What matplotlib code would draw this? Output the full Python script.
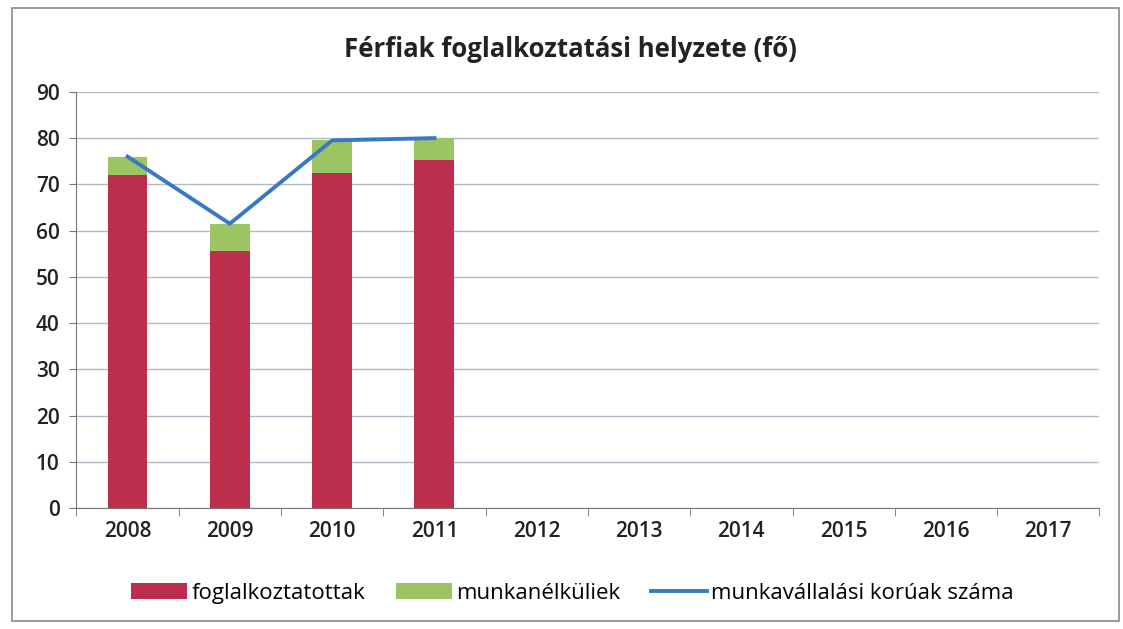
import matplotlib.pyplot as plt
from matplotlib.patches import Rectangle
import numpy as np

plt.rcParams['font.family'] = ['Open Sans', 'DejaVu Sans']

years = ['2008', '2009', '2010', '2011', '2012', '2013', '2014', '2015', '2016', '2017']
employed = [72, 55.5, 72.5, 75.3]
unemployed = [4, 6, 7, 4.7]
working_age = [76, 61.5, 79.5, 80]

title = 'Férfiak foglalkoztatási helyzete (fő)'
labels = ['foglalkoztatottak', 'munkanélküliek', 'munkavállalási korúak száma']

red = '#BC2E4C'
green = '#9CC462'
blue = '#3A78C6'

fig = plt.figure(figsize=(11.23, 6.29), dpi=100)
fig.patches.append(Rectangle((0.011, 0.012), 0.985, 0.975, transform=fig.transFigure,
                             fill=False, edgecolor='#8a8a8a', linewidth=1.2))
ax = fig.add_axes([0.068, 0.192, 0.911, 0.662])

x = np.arange(len(years))
n = len(employed)
b1 = ax.bar(x[:n], employed, width=0.39, color=red, label=labels[0], zorder=2)
b2 = ax.bar(x[:n], unemployed, width=0.39, bottom=employed, color=green, label=labels[1], zorder=2)
l1, = ax.plot(x[:n], working_age, color=blue, linewidth=2.8, label=labels[2], zorder=3)

ax.set_xlim(-0.5, len(years) - 0.5)
ax.set_ylim(0, 90)
ax.set_yticks(range(0, 91, 10))
ax.yaxis.grid(True, color='#b4b8c8', linewidth=1)
ax.set_axisbelow(True)
ax.set_xticks(x)
ax.set_xticklabels(years)
ax.set_xticks(np.arange(-0.5, len(years)), minor=True)
ax.tick_params(axis='x', which='major', length=0, pad=9, labelsize=15, labelcolor='#222222')
ax.tick_params(axis='x', which='minor', length=6, direction='out', color='#777777')
ax.tick_params(axis='y', length=5, color='#777777', labelsize=15, labelcolor='#222222', pad=7)
for lab in ax.get_xticklabels() + ax.get_yticklabels():
    lab.set_fontweight('semibold')
for s in ['top', 'right']:
    ax.spines[s].set_visible(False)
ax.spines['left'].set_color('#777777')
ax.spines['bottom'].set_color('#777777')

fig.text(0.508, 0.922, title, ha='center', va='center', fontsize=18.5, fontweight='bold', color='#222222')

fig.legend(handles=[b1, b2, l1], labels=labels, loc='center', bbox_to_anchor=(0.51, 0.057),
           ncol=3, frameon=False, fontsize=16, handlelength=2.5, handleheight=0.7,
           handletextpad=0.2, columnspacing=1.4)

fig.savefig('out.png', dpi=100)
